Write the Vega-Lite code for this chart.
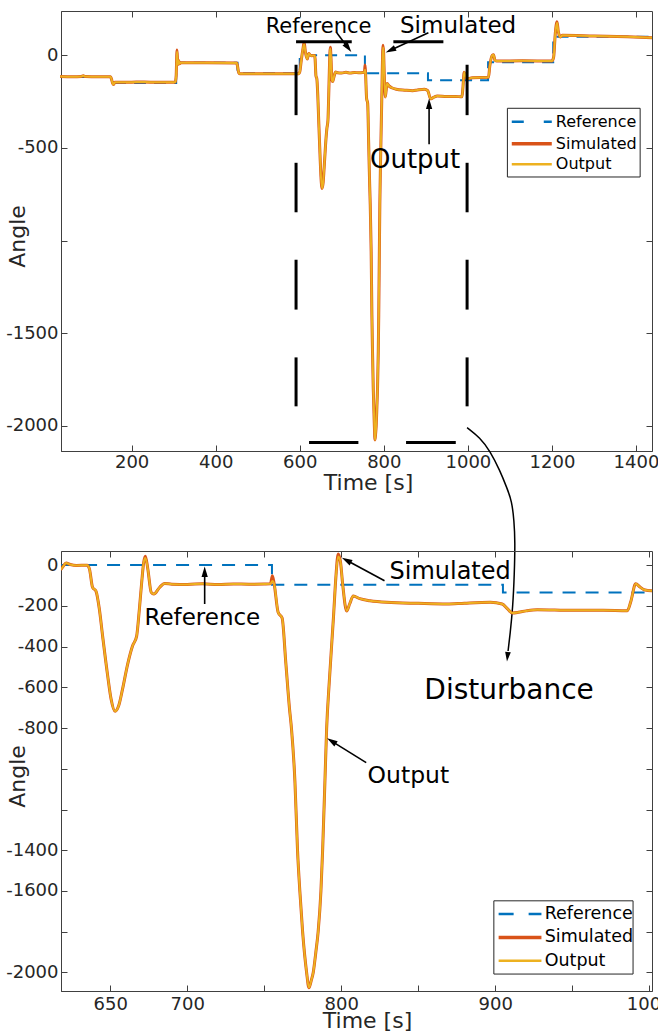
{
  "$schema": "https://vega.github.io/schema/vega-lite/v6.json",
  "background": "white",
  "padding": {"left": 5, "top": 10, "right": 0, "bottom": 0},
  "spacing": 100,
  "bounds": "flush",
  "config": {
    "font": "DejaVu Sans",
    "view": {"stroke": "#404040", "strokeWidth": 1},
    "text": {"font": "DejaVu Sans"},
    "axis": {
      "labelFont": "DejaVu Sans", "labelFontSize": 18, "labelColor": "#262626",
      "titleFont": "DejaVu Sans", "titleFontSize": 22, "titleFontWeight": "normal", "titleColor": "#262626",
      "domainColor": "#404040", "domainWidth": 1, "tickColor": "#404040", "tickSize": -6, "tickWidth": 1,
      "grid": false, "labelPadding": 3, "labelOverlap": false, "labelFlush": false
    }
  },
  "datasets": {
    "ref": [
      {"t": 30, "v": -117}, {"t": 151, "v": -150}, {"t": 306, "v": -40}, {"t": 452, "v": -97},
      {"t": 600, "v": 0}, {"t": 755, "v": -97}, {"t": 905, "v": -135}, {"t": 1048, "v": -38},
      {"t": 1203, "v": 100}, {"t": 1438, "v": 100}
    ],
    "sim": [
      {"t": 30, "v": -115}, {"t": 60, "v": -116}, {"t": 80, "v": -114}, {"t": 85, "v": -110}, {"t": 90, "v": -115},
      {"t": 120, "v": -116}, {"t": 150, "v": -116}, {"t": 152, "v": -128}, {"t": 155, "v": -152}, {"t": 157, "v": -158},
      {"t": 160, "v": -146}, {"t": 200, "v": -145}, {"t": 230, "v": -144}, {"t": 260, "v": -146}, {"t": 300, "v": -146},
      {"t": 304, "v": -144}, {"t": 306, "v": -110}, {"t": 308, "v": 28}, {"t": 310, "v": -50}, {"t": 312, "v": -28},
      {"t": 314, "v": -46}, {"t": 317, "v": -40}, {"t": 380, "v": -40}, {"t": 450, "v": -41}, {"t": 452, "v": -60},
      {"t": 455, "v": -95}, {"t": 458, "v": -100}, {"t": 530, "v": -99}, {"t": 598, "v": -100}, {"t": 600, "v": -90},
      {"t": 604, "v": -20}, {"t": 608, "v": 40}, {"t": 610.5, "v": 70}, {"t": 613, "v": 25}, {"t": 616, "v": -10},
      {"t": 618, "v": -20}, {"t": 619.5, "v": -5}, {"t": 621.3, "v": 10}, {"t": 624, "v": 3}, {"t": 628, "v": -2},
      {"t": 635, "v": -1}, {"t": 636.5, "v": -20}, {"t": 638.5, "v": -110}, {"t": 640.7, "v": -128}, {"t": 642.9, "v": -216},
      {"t": 645, "v": -347}, {"t": 648.3, "v": -543}, {"t": 650.5, "v": -657}, {"t": 653.1, "v": -718}, {"t": 655.5, "v": -690},
      {"t": 658, "v": -608}, {"t": 661.3, "v": -486}, {"t": 664.5, "v": -396}, {"t": 667.1, "v": -350}, {"t": 668.9, "v": -216},
      {"t": 670.4, "v": -85}, {"t": 671.7, "v": 13}, {"t": 672.8, "v": 43}, {"t": 674.4, "v": -20}, {"t": 676.6, "v": -134},
      {"t": 678.3, "v": -142}, {"t": 682, "v": -110}, {"t": 685.3, "v": -90}, {"t": 690, "v": -94}, {"t": 700, "v": -95},
      {"t": 710, "v": -92}, {"t": 720, "v": -96}, {"t": 730, "v": -93}, {"t": 740, "v": -94}, {"t": 750, "v": -93},
      {"t": 754, "v": -92}, {"t": 755.3, "v": -52}, {"t": 756.5, "v": -95}, {"t": 759, "v": -232}, {"t": 761.6, "v": -260},
      {"t": 764, "v": -480}, {"t": 766.4, "v": -706}, {"t": 767.7, "v": -805}, {"t": 769.9, "v": -1060}, {"t": 771.6, "v": -1400},
      {"t": 773.1, "v": -1600}, {"t": 774.9, "v": -1800}, {"t": 777.5, "v": -2000}, {"t": 779, "v": -2075}, {"t": 780.5, "v": -2040},
      {"t": 781.8, "v": -2000}, {"t": 783.5, "v": -1900}, {"t": 785, "v": -1800}, {"t": 786.8, "v": -1600}, {"t": 787.9, "v": -1400},
      {"t": 789.4, "v": -1060}, {"t": 790.5, "v": -805}, {"t": 792.2, "v": -576}, {"t": 795, "v": -249}, {"t": 796.5, "v": -60},
      {"t": 798, "v": 54}, {"t": 799.5, "v": 15}, {"t": 801, "v": -100}, {"t": 803.5, "v": -225}, {"t": 805.5, "v": -190},
      {"t": 807.8, "v": -152}, {"t": 812, "v": -165}, {"t": 818.7, "v": -175}, {"t": 829.6, "v": -183}, {"t": 850, "v": -188},
      {"t": 868.7, "v": -191}, {"t": 880, "v": -187}, {"t": 896.8, "v": -183}, {"t": 904.5, "v": -191}, {"t": 908, "v": -215},
      {"t": 911, "v": -235}, {"t": 915, "v": -232}, {"t": 920, "v": -225}, {"t": 927.3, "v": -219}, {"t": 950, "v": -222},
      {"t": 970, "v": -222}, {"t": 985.8, "v": -224}, {"t": 988, "v": -180}, {"t": 991.2, "v": -92}, {"t": 994, "v": -108},
      {"t": 996.6, "v": -121}, {"t": 1001.5, "v": -126}, {"t": 1010, "v": -121}, {"t": 1049, "v": -119}, {"t": 1052, "v": -60},
      {"t": 1058, "v": 0}, {"t": 1061, "v": 3}, {"t": 1064, "v": -25}, {"t": 1068, "v": -31}, {"t": 1130, "v": -30},
      {"t": 1200, "v": -31}, {"t": 1204, "v": -10}, {"t": 1208, "v": 120}, {"t": 1212, "v": 181}, {"t": 1215, "v": 130},
      {"t": 1220, "v": 99}, {"t": 1225, "v": 108}, {"t": 1300, "v": 104}, {"t": 1380, "v": 100}, {"t": 1438, "v": 95}
    ],
    "out": [
      {"t": 30, "v": -115}, {"t": 60, "v": -116}, {"t": 80, "v": -114}, {"t": 85, "v": -110}, {"t": 90, "v": -115},
      {"t": 120, "v": -116}, {"t": 150, "v": -116}, {"t": 152, "v": -128}, {"t": 155, "v": -152}, {"t": 157, "v": -158},
      {"t": 160, "v": -146}, {"t": 200, "v": -145}, {"t": 230, "v": -144}, {"t": 260, "v": -146}, {"t": 300, "v": -146},
      {"t": 304, "v": -144}, {"t": 306, "v": -110}, {"t": 308, "v": 20}, {"t": 310, "v": -50}, {"t": 312, "v": -28},
      {"t": 314, "v": -46}, {"t": 317, "v": -40}, {"t": 380, "v": -40}, {"t": 450, "v": -41}, {"t": 452, "v": -60},
      {"t": 455, "v": -95}, {"t": 458, "v": -100}, {"t": 530, "v": -99}, {"t": 598, "v": -100}, {"t": 600, "v": -90},
      {"t": 604, "v": -20}, {"t": 608, "v": 40}, {"t": 610.5, "v": 60}, {"t": 613, "v": 25}, {"t": 616, "v": -10},
      {"t": 618, "v": -20}, {"t": 619.5, "v": -5}, {"t": 621.3, "v": 10}, {"t": 624, "v": 3}, {"t": 628, "v": -2},
      {"t": 635, "v": -1}, {"t": 636.5, "v": -20}, {"t": 638.5, "v": -110}, {"t": 640.7, "v": -126}, {"t": 642.9, "v": -216},
      {"t": 645, "v": -347}, {"t": 648.3, "v": -543}, {"t": 650.5, "v": -657}, {"t": 653.1, "v": -718}, {"t": 655.5, "v": -690},
      {"t": 658, "v": -608}, {"t": 661.3, "v": -486}, {"t": 664.5, "v": -396}, {"t": 667.1, "v": -350}, {"t": 668.9, "v": -216},
      {"t": 670.4, "v": -85}, {"t": 671.7, "v": 13}, {"t": 672.8, "v": 35}, {"t": 674.4, "v": -20}, {"t": 676.6, "v": -134},
      {"t": 678.3, "v": -142}, {"t": 682, "v": -110}, {"t": 685.3, "v": -90}, {"t": 690, "v": -94}, {"t": 700, "v": -95},
      {"t": 710, "v": -92}, {"t": 720, "v": -96}, {"t": 730, "v": -93}, {"t": 740, "v": -94}, {"t": 750, "v": -93},
      {"t": 754, "v": -92}, {"t": 755.3, "v": -78}, {"t": 756.5, "v": -95}, {"t": 759, "v": -232}, {"t": 761.6, "v": -260},
      {"t": 764, "v": -480}, {"t": 766.4, "v": -706}, {"t": 767.7, "v": -805}, {"t": 769.9, "v": -1060}, {"t": 771.6, "v": -1400},
      {"t": 773.1, "v": -1600}, {"t": 774.9, "v": -1800}, {"t": 777.5, "v": -2000}, {"t": 779, "v": -2075}, {"t": 780.5, "v": -2040},
      {"t": 781.8, "v": -2000}, {"t": 783.5, "v": -1900}, {"t": 785, "v": -1800}, {"t": 786.8, "v": -1600}, {"t": 787.9, "v": -1400},
      {"t": 789.4, "v": -1060}, {"t": 790.5, "v": -805}, {"t": 792.2, "v": -576}, {"t": 795, "v": -249}, {"t": 796.5, "v": -60},
      {"t": 798, "v": 42}, {"t": 799.5, "v": 15}, {"t": 801, "v": -100}, {"t": 803.5, "v": -225}, {"t": 805.5, "v": -190},
      {"t": 807.8, "v": -152}, {"t": 812, "v": -165}, {"t": 818.7, "v": -175}, {"t": 829.6, "v": -183}, {"t": 850, "v": -188},
      {"t": 868.7, "v": -191}, {"t": 880, "v": -187}, {"t": 896.8, "v": -183}, {"t": 904.5, "v": -191}, {"t": 908, "v": -215},
      {"t": 911, "v": -235}, {"t": 915, "v": -232}, {"t": 920, "v": -225}, {"t": 927.3, "v": -219}, {"t": 950, "v": -222},
      {"t": 970, "v": -222}, {"t": 985.8, "v": -224}, {"t": 988, "v": -180}, {"t": 991.2, "v": -92}, {"t": 994, "v": -108},
      {"t": 996.6, "v": -121}, {"t": 1001.5, "v": -126}, {"t": 1010, "v": -121}, {"t": 1049, "v": -119}, {"t": 1052, "v": -60},
      {"t": 1058, "v": 0}, {"t": 1061, "v": 3}, {"t": 1064, "v": -25}, {"t": 1068, "v": -31}, {"t": 1130, "v": -30},
      {"t": 1200, "v": -31}, {"t": 1204, "v": -10}, {"t": 1208, "v": 120}, {"t": 1212, "v": 175}, {"t": 1215, "v": 130},
      {"t": 1220, "v": 99}, {"t": 1225, "v": 108}, {"t": 1300, "v": 104}, {"t": 1380, "v": 100}, {"t": 1438, "v": 95}
    ]
  },
  "vconcat": [
    {
      "width": 591,
      "height": 440,
      "resolve": {"axis": {"x": "independent", "y": "independent"}},
      "layer": [
        {
          "encoding": {
            "x": {
              "field": "t", "type": "quantitative",
              "scale": {"domain": [32, 1438], "nice": false, "zero": false},
              "axis": {
                "title": "Time [s]", "values": [200, 400, 600, 800, 1000, 1200, 1400], "ticks": false,
                "labelExpr": "'' + datum.value", "labelPadding": 2,
                "titleX": 307, "titleY": 38, "titleBaseline": "alphabetic"
              }
            },
            "y": {
              "field": "v", "type": "quantitative",
              "scale": {"domain": [-2135, 239], "nice": false, "zero": false},
              "axis": {
                "title": "Angle", "values": [0, -500, -1000, -1500, -2000], "ticks": false,
                "labelExpr": "datum.value == -1000 ? '' : '' + datum.value",
                "labelPadding": 3,
                "titleX": -36.7, "titleY": 225, "titleBaseline": "alphabetic"
              }
            }
          },
          "layer": [
            {"data": {"name": "ref"}, "mark": {"type": "line", "color": "#0072BD", "strokeWidth": 2, "strokeDash": [12, 8], "interpolate": "step-after"}, "encoding": {}},
            {"data": {"name": "sim"}, "mark": {"type": "line", "color": "#D95319", "strokeWidth": 3, "interpolate": "monotone"}, "encoding": {}},
            {"data": {"name": "out"}, "mark": {"type": "line", "color": "#EDB120", "strokeWidth": 2, "interpolate": "monotone"}, "encoding": {}},
            {
              "data": {"values": [
                {"t": 591.2, "v": -51, "t2": 591.2, "v2": -323},
                {"t": 591.2, "v": -580, "t2": 591.2, "v2": -847},
                {"t": 591.2, "v": -1103, "t2": 591.2, "v2": -1372},
                {"t": 591.2, "v": -1630, "t2": 591.2, "v2": -1894},
                {"t": 998.1, "v": -51, "t2": 998.1, "v2": -323},
                {"t": 998.1, "v": -580, "t2": 998.1, "v2": -847},
                {"t": 998.1, "v": -1103, "t2": 998.1, "v2": -1372},
                {"t": 998.1, "v": -1630, "t2": 998.1, "v2": -1894},
                {"t": 591.2, "v": 73.4, "t2": 723.7, "v2": 73.4},
                {"t": 822.7, "v": 73.4, "t2": 941.7, "v2": 73.4},
                {"t": 622.1, "v": -2088.8, "t2": 739.5, "v2": -2088.8},
                {"t": 852.9, "v": -2088.8, "t2": 971.2, "v2": -2088.8}
              ]},
              "mark": {"type": "rule", "color": "black", "strokeWidth": 3, "clip": false},
              "encoding": {"x2": {"field": "t2"}, "y2": {"field": "v2"}}
            },
            {
              "data": {"values": [
                {"t": 688.0, "v": 121.9, "t2": 715.2, "v2": 39.9},
                {"t": 906.0, "v": 121.9, "t2": 815.8, "v2": 27.5},
                {"t": 907.7, "v": -480.2, "t2": 907.7, "v2": -261.1}
              ]},
              "mark": {"type": "rule", "color": "black", "strokeWidth": 1.6, "clip": false},
              "encoding": {"x2": {"field": "t2"}, "y2": {"field": "v2"}}
            },
            {"data": {"values": [{"t": 715.2, "v": 39.9}]}, "mark": {"type": "point", "shape": "M0,-1L0.6,1L-0.6,1Z", "filled": true, "color": "black", "opacity": 1, "size": 110, "angle": 143.1, "clip": false}, "encoding": {}},
            {"data": {"values": [{"t": 815.8, "v": 27.5}]}, "mark": {"type": "point", "shape": "M0,-1L0.6,1L-0.6,1Z", "filled": true, "color": "black", "opacity": 1, "size": 110, "angle": 245.2, "clip": false}, "encoding": {}},
            {"data": {"values": [{"t": 907.7, "v": -261.1}]}, "mark": {"type": "point", "shape": "M0,-1L0.6,1L-0.6,1Z", "filled": true, "color": "black", "opacity": 1, "size": 110, "angle": 0, "clip": false}, "encoding": {}},
            {
              "data": {"values": [
                {"k": 0, "t": 998.1, "v": -2009.2}, {"k": 1, "t": 1029.0, "v": -2063.1}, {"k": 2, "t": 1052.8, "v": -2134.9},
                {"k": 3, "t": 1076.6, "v": -2242.8}, {"k": 4, "t": 1092.6, "v": -2332.9}, {"k": 5, "t": 1104.5, "v": -2404.6},
                {"k": 6, "t": 1109.9, "v": -2512.5}, {"k": 7, "t": 1112.3, "v": -2620.4}, {"k": 8, "t": 1110.6, "v": -2800.1},
                {"k": 9, "t": 1106.8, "v": -2980.3}, {"k": 10, "t": 1100.4, "v": -3123.8}, {"k": 11, "t": 1095.6, "v": -3213.9}
              ]},
              "mark": {"type": "line", "color": "black", "strokeWidth": 1.5, "interpolate": "basis", "clip": false},
              "encoding": {"order": {"field": "k", "type": "quantitative"}}
            },
            {"data": {"values": [{"t": 1094.2, "v": -3244.7}]}, "mark": {"type": "point", "shape": "M0,-1L0.6,1L-0.6,1Z", "filled": true, "color": "black", "opacity": 1, "size": 90, "angle": 186.3, "clip": false}, "encoding": {}},
            {"data": {"values": [{"t": 644.7, "v": 121.9, "label": "Reference"}]}, "mark": {"type": "text", "fontSize": 21, "align": "center", "baseline": "alphabetic", "color": "black"}, "encoding": {"text": {"field": "label"}}},
            {"data": {"values": [{"t": 976.7, "v": 118.7, "label": "Simulated"}]}, "mark": {"type": "text", "fontSize": 23, "align": "center", "baseline": "alphabetic", "color": "black"}, "encoding": {"text": {"field": "label"}}},
            {"data": {"values": [{"t": 874.4, "v": -606.4, "label": "Output"}]}, "mark": {"type": "text", "fontSize": 26, "align": "center", "baseline": "alphabetic", "color": "black"}, "encoding": {"text": {"field": "label"}}},
            {
              "data": {"values": [{"t": 1094.0, "v": -285.9, "t2": 1409.8, "v2": -656.6}]},
              "mark": {"type": "rect", "fill": "white", "stroke": "#262626", "strokeWidth": 1},
              "encoding": {"x2": {"field": "t2"}, "y2": {"field": "v2"}}
            },
            {"data": {"values": [{"t": 1104.4, "t2": 1199.6, "v": -358.2}]}, "mark": {"type": "rule", "color": "#0072BD", "strokeWidth": 2.5, "strokeDash": [12, 20]}, "encoding": {"x2": {"field": "t2"}}},
            {"data": {"values": [{"t": 1104.4, "t2": 1199.6, "v": -476.9}]}, "mark": {"type": "rule", "color": "#D95319", "strokeWidth": 3.5}, "encoding": {"x2": {"field": "t2"}}},
            {"data": {"values": [{"t": 1104.4, "t2": 1199.6, "v": -588.1}]}, "mark": {"type": "rule", "color": "#EDB120", "strokeWidth": 2.5}, "encoding": {"x2": {"field": "t2"}}},
            {
              "data": {"values": [
                {"t": 1209.2, "v": -358.2, "label": "Reference"},
                {"t": 1209.2, "v": -476.9, "label": "Simulated"},
                {"t": 1209.2, "v": -588.1, "label": "Output"}
              ]},
              "mark": {"type": "text", "fontSize": 16, "align": "left", "baseline": "middle", "color": "black"},
              "encoding": {"text": {"field": "label"}}
            }
          ]
        },
        {
          "data": {"values": [{"t": 500, "v": 0}]},
          "mark": {"type": "point", "opacity": 0},
          "encoding": {
            "x": {"field": "t", "type": "quantitative", "scale": {"domain": [32, 1438], "nice": false, "zero": false},
                  "axis": {"orient": "top", "labels": false, "domain": false, "title": null, "values": [200, 400, 600, 800, 1000, 1200, 1400]}},
            "y": {"field": "v", "type": "quantitative", "scale": {"domain": [-2135, 239], "nice": false, "zero": false},
                  "axis": {"orient": "right", "labels": false, "domain": false, "title": null, "values": [0, -500, -1000, -1500, -2000]}}
          }
        },
        {
          "data": {"values": [{"t": 500, "v": 0}]},
          "mark": {"type": "point", "opacity": 0},
          "encoding": {
            "x": {"field": "t", "type": "quantitative", "scale": {"domain": [32, 1438], "nice": false, "zero": false},
                  "axis": {"orient": "bottom", "labels": false, "domain": false, "title": null, "values": [200, 400, 600, 800, 1000, 1200, 1400]}},
            "y": {"field": "v", "type": "quantitative", "scale": {"domain": [-2135, 239], "nice": false, "zero": false},
                  "axis": {"orient": "left", "labels": false, "domain": false, "title": null, "values": [0, -500, -1000, -1500, -2000]}}
          }
        }
      ]
    },
    {
      "width": 591,
      "height": 440,
      "resolve": {"axis": {"x": "independent", "y": "independent"}},
      "layer": [
        {
          "encoding": {
            "x": {
              "field": "t", "type": "quantitative",
              "scale": {"domain": [618, 1001.8], "nice": false, "zero": false},
              "axis": {
                "title": "Time [s]", "values": [650, 700, 750, 800, 850, 900, 950, 1000], "ticks": false,
                "labelExpr": "indexof([750, 850, 950], datum.value) >= 0 ? '' : '' + datum.value", "labelPadding": 4,
                "titleX": 306, "titleY": 36.5, "titleBaseline": "alphabetic"
              }
            },
            "y": {
              "field": "v", "type": "quantitative",
              "scale": {"domain": [-2091, 69], "nice": false, "zero": false},
              "axis": {
                "title": "Angle", "values": [0, -200, -400, -600, -800, -1000, -1200, -1400, -1600, -1800, -2000], "ticks": false,
                "labelExpr": "indexof([-1000, -1200, -1800], datum.value) >= 0 ? '' : '' + datum.value",
                "labelPadding": 3,
                "titleX": -36.7, "titleY": 225, "titleBaseline": "alphabetic"
              }
            }
          },
          "layer": [
            {"data": {"name": "ref"}, "mark": {"type": "line", "color": "#0072BD", "strokeWidth": 2, "strokeDash": [13, 10], "interpolate": "step-after", "clip": true}, "encoding": {}},
            {"data": {"name": "sim"}, "mark": {"type": "line", "color": "#D95319", "strokeWidth": 3, "interpolate": "monotone", "clip": true}, "encoding": {}},
            {"data": {"name": "out"}, "mark": {"type": "line", "color": "#EDB120", "strokeWidth": 2, "interpolate": "monotone", "clip": true}, "encoding": {}},
            {
              "data": {"values": [
                {"t": 711.3, "v": -191.3, "t2": 711.3, "v2": -32.9},
                {"t": 828.1, "v": -77.0, "t2": 803.4, "v2": 23.5},
                {"t": 816.2, "v": -969.8, "t2": 793.7, "v2": -864.4}
              ]},
              "mark": {"type": "rule", "color": "black", "strokeWidth": 1.6},
              "encoding": {"x2": {"field": "t2"}, "y2": {"field": "v2"}}
            },
            {"data": {"values": [{"t": 711.3, "v": -32.9}]}, "mark": {"type": "point", "shape": "M0,-1L0.6,1L-0.6,1Z", "filled": true, "color": "black", "opacity": 1, "size": 110, "angle": 0}, "encoding": {}},
            {"data": {"values": [{"t": 803.4, "v": 23.5}]}, "mark": {"type": "point", "shape": "M0,-1L0.6,1L-0.6,1Z", "filled": true, "color": "black", "opacity": 1, "size": 110, "angle": 298.4}, "encoding": {}},
            {"data": {"values": [{"t": 793.7, "v": -864.4}]}, "mark": {"type": "point", "shape": "M0,-1L0.6,1L-0.6,1Z", "filled": true, "color": "black", "opacity": 1, "size": 110, "angle": 301.9}, "encoding": {}},
            {"data": {"values": [{"t": 709.8, "v": -294.3, "label": "Reference"}]}, "mark": {"type": "text", "fontSize": 23, "align": "center", "baseline": "alphabetic", "color": "black"}, "encoding": {"text": {"field": "label"}}},
            {"data": {"values": [{"t": 870.7, "v": -68.7, "label": "Simulated"}]}, "mark": {"type": "text", "fontSize": 24, "align": "center", "baseline": "alphabetic", "color": "black"}, "encoding": {"text": {"field": "label"}}},
            {"data": {"values": [{"t": 843.6, "v": -1067.9, "label": "Output"}]}, "mark": {"type": "text", "fontSize": 23.5, "align": "center", "baseline": "alphabetic", "color": "black"}, "encoding": {"text": {"field": "label"}}},
            {"data": {"values": [{"t": 909.0, "v": -655.9, "label": "Disturbance"}]}, "mark": {"type": "text", "fontSize": 28, "align": "center", "baseline": "alphabetic", "color": "black"}, "encoding": {"text": {"field": "label"}}},
            {
              "data": {"values": [{"t": 899.1, "v": -1648.3, "t2": 989.5, "v2": -2007.8}]},
              "mark": {"type": "rect", "fill": "white", "stroke": "#262626", "strokeWidth": 1},
              "encoding": {"x2": {"field": "t2"}, "y2": {"field": "v2"}}
            },
            {"data": {"values": [{"t": 902.2, "t2": 930.0, "v": -1713.5}]}, "mark": {"type": "rule", "color": "#0072BD", "strokeWidth": 2.5, "strokeDash": [15, 15]}, "encoding": {"x2": {"field": "t2"}}},
            {"data": {"values": [{"t": 902.2, "t2": 930.0, "v": -1828.3}]}, "mark": {"type": "rule", "color": "#D95319", "strokeWidth": 3.5}, "encoding": {"x2": {"field": "t2"}}},
            {"data": {"values": [{"t": 902.2, "t2": 930.0, "v": -1942.6}]}, "mark": {"type": "rule", "color": "#EDB120", "strokeWidth": 2.5}, "encoding": {"x2": {"field": "t2"}}},
            {
              "data": {"values": [
                {"t": 932.1, "v": -1713.5, "label": "Reference"},
                {"t": 932.1, "v": -1828.3, "label": "Simulated"},
                {"t": 932.1, "v": -1942.6, "label": "Output"}
              ]},
              "mark": {"type": "text", "fontSize": 17.5, "align": "left", "baseline": "middle", "color": "black"},
              "encoding": {"text": {"field": "label"}}
            }
          ]
        },
        {
          "data": {"values": [{"t": 800, "v": 0}]},
          "mark": {"type": "point", "opacity": 0},
          "encoding": {
            "x": {"field": "t", "type": "quantitative", "scale": {"domain": [618, 1001.8], "nice": false, "zero": false},
                  "axis": {"orient": "top", "labels": false, "domain": false, "title": null, "values": [650, 700, 750, 800, 850, 900, 950, 1000]}},
            "y": {"field": "v", "type": "quantitative", "scale": {"domain": [-2091, 69], "nice": false, "zero": false},
                  "axis": {"orient": "right", "labels": false, "domain": false, "title": null, "values": [0, -200, -400, -600, -800, -1000, -1200, -1400, -1600, -1800, -2000]}}
          }
        },
        {
          "data": {"values": [{"t": 800, "v": 0}]},
          "mark": {"type": "point", "opacity": 0},
          "encoding": {
            "x": {"field": "t", "type": "quantitative", "scale": {"domain": [618, 1001.8], "nice": false, "zero": false},
                  "axis": {"orient": "bottom", "labels": false, "domain": false, "title": null, "values": [650, 700, 750, 800, 850, 900, 950, 1000]}},
            "y": {"field": "v", "type": "quantitative", "scale": {"domain": [-2091, 69], "nice": false, "zero": false},
                  "axis": {"orient": "left", "labels": false, "domain": false, "title": null, "values": [0, -200, -400, -600, -800, -1000, -1200, -1400, -1600, -1800, -2000]}}
          }
        }
      ]
    }
  ]
}
